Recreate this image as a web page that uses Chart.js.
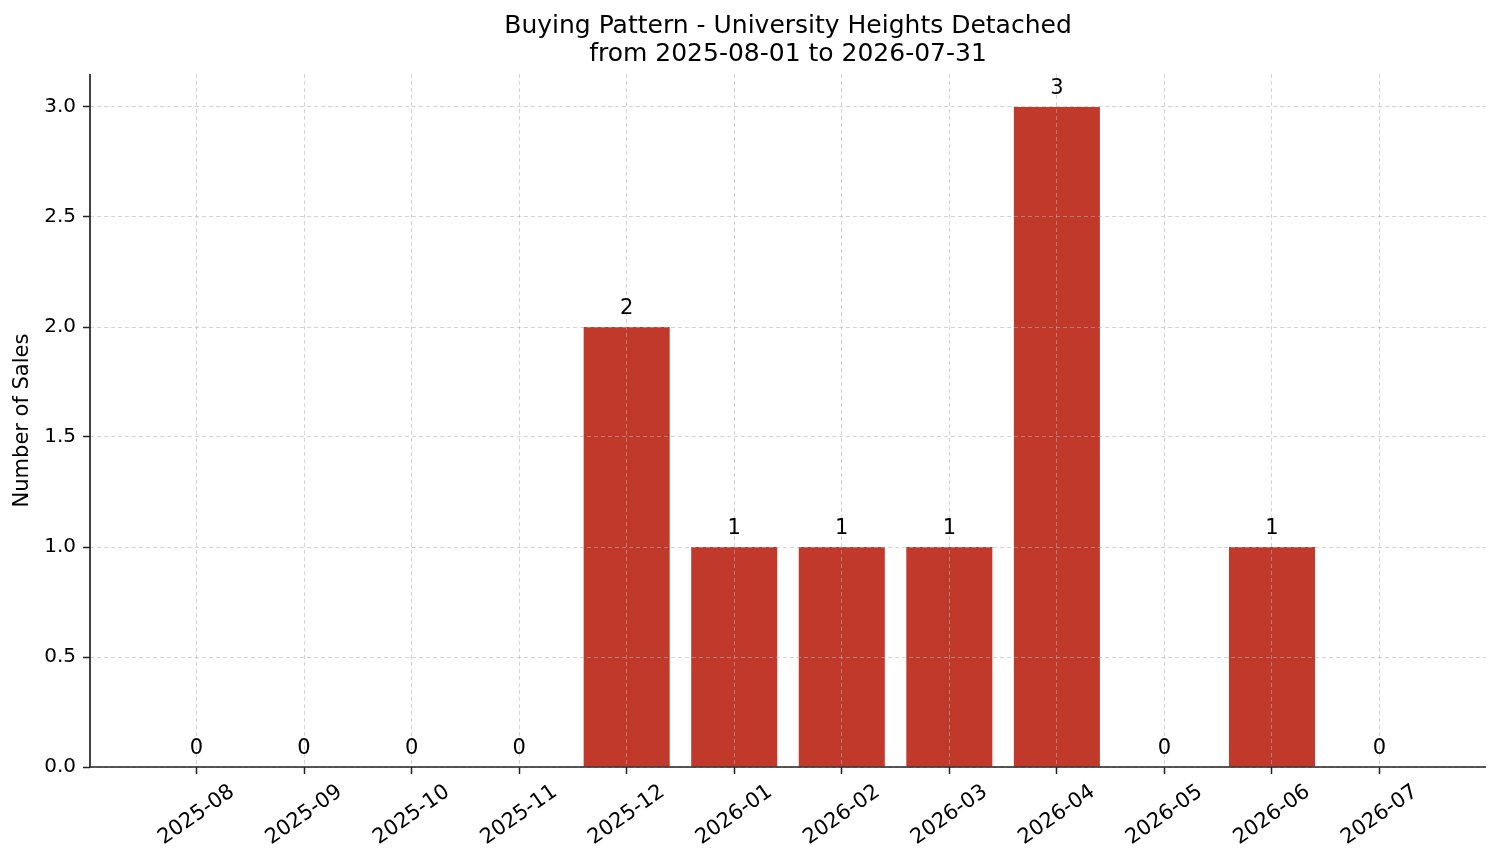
<!DOCTYPE html>
<html>
<head>
<meta charset="utf-8">
<title>Buying Pattern - University Heights Detached</title>
<script src="https://cdn.jsdelivr.net/npm/chart.js@4.4.1/dist/chart.umd.min.js"></script>
<style>
    html, body { margin: 0; padding: 0; background: #ffffff; }
    #wrap { width: 1501px; height: 863px; position: relative; }
</style>
</head>
<body>
<div id="wrap"><canvas id="salesChart"></canvas></div>
<script>
// Chart data
const months = ['2025-08', '2025-09', '2025-10', '2025-11', '2025-12', '2026-01',
                '2026-02', '2026-03', '2026-04', '2026-05', '2026-06', '2026-07'];
const sales = [0, 0, 0, 0, 2, 1, 1, 1, 3, 0, 1, 0];
const yTicks = [0, 0.5, 1.0, 1.5, 2.0, 2.5, 3.0];

const titleLines = ['Buying Pattern - University Heights Detached', 'from 2025-08-01 to 2026-07-31'];
const yLabel = 'Number of Sales';

const FONT = '"DejaVu Sans", sans-serif';
const INK = '#222222';
const GRID = 'rgba(176,176,176,0.55)';

// Spines, title, y label, bar values and rotated month labels
const annotatePlugin = {
    id: 'annotate',
    afterDraw(chart) {
        const ctx = chart.ctx;
        const area = chart.chartArea;
        const xScale = chart.scales.x;
        ctx.save();

        // left and bottom spines
        ctx.strokeStyle = INK;
        ctx.lineWidth = 1.7;
        ctx.beginPath();
        ctx.moveTo(area.left, area.top);
        ctx.lineTo(area.left, area.bottom);
        ctx.lineTo(area.right, area.bottom);
        ctx.stroke();

        ctx.fillStyle = '#000';

        // title
        ctx.font = '25px ' + FONT;
        ctx.textAlign = 'center';
        ctx.textBaseline = 'middle';
        const cx = (area.left + area.right) / 2;
        ctx.fillText(titleLines[0], cx, 26);
        ctx.fillText(titleLines[1], cx, 54);

        // y axis label
        ctx.font = '21px ' + FONT;
        ctx.save();
        ctx.translate(23, (area.top + area.bottom) / 2);
        ctx.rotate(-Math.PI / 2);
        ctx.fillText(yLabel, 0, 0);
        ctx.restore();

        // value labels above bars
        ctx.font = '21px ' + FONT;
        ctx.textBaseline = 'alphabetic';
        const meta = chart.getDatasetMeta(0);
        meta.data.forEach((bar, i) => {
            ctx.fillText(String(sales[i]), bar.x, bar.y - 13);
        });

        // rotated month labels
        const angle = 35 * Math.PI / 180;
        ctx.font = '21px ' + FONT;
        ctx.textBaseline = 'middle';
        months.forEach((m, i) => {
            const x = xScale.getPixelForValue(i);
            const w = ctx.measureText(m).width;
            const h = 21 * 1.16;
            const boxH = w * Math.sin(angle) + h * Math.cos(angle);
            const cy = area.bottom + 13 + boxH / 2;
            ctx.save();
            ctx.translate(x, cy);
            ctx.rotate(-angle);
            ctx.fillText(m, 0, 0);
            ctx.restore();
        });
        ctx.restore();
    }
};

const barData = sales.map((v, i) => ({ x: i, y: v }));

new Chart(document.getElementById('salesChart'), {
    type: 'bar',
    data: {
        datasets: [{
            label: 'Sales',
            data: barData,
            backgroundColor: '#c0392b',
            borderWidth: 0,
            categoryPercentage: 0.8,
            barPercentage: 1.0
        }]
    },
    options: {
        responsive: true,
        maintainAspectRatio: false,
        animation: false,
        devicePixelRatio: 1,
        layout: { padding: { top: 74, left: 0, right: 15, bottom: 0 } },
        plugins: {
            legend: { display: false },
            tooltip: { enabled: false },
            title: { display: false }
        },
        scales: {
            x: {
                type: 'linear',
                offset: false,
                min: -0.99,
                max: 11.99,
                afterBuildTicks(scale) {
                    scale.ticks = months.map((m, i) => ({ value: i }));
                },
                afterFit(scale) { scale.height = 96; },
                ticks: { color: 'rgba(0,0,0,0)', maxRotation: 0, autoSkip: false, font: { size: 20, family: FONT } },
                grid: {
                    offset: false,
                    color: GRID,
                    lineWidth: 1,
                    tickColor: INK,
                    tickLength: 7,
                    tickWidth: 1.5,
                    z: 1
                },
                border: { display: false, dash: [4, 3] }
            },
            y: {
                min: 0,
                max: 3.15,
                afterBuildTicks(scale) {
                    scale.ticks = yTicks.map(v => ({ value: v }));
                },
                afterFit(scale) { scale.width = 90; },
                ticks: {
                    color: '#000',
                    padding: 7,
                    font: { size: 20, family: FONT },
                    callback: v => Number(v).toFixed(1)
                },
                grid: {
                    color: GRID,
                    lineWidth: 1,
                    tickColor: INK,
                    tickLength: 7,
                    tickWidth: 1.5,
                    z: 1
                },
                border: { display: false, dash: [4, 3] }
            }
        }
    },
    plugins: [annotatePlugin]
});
</script>
</body>
</html>
